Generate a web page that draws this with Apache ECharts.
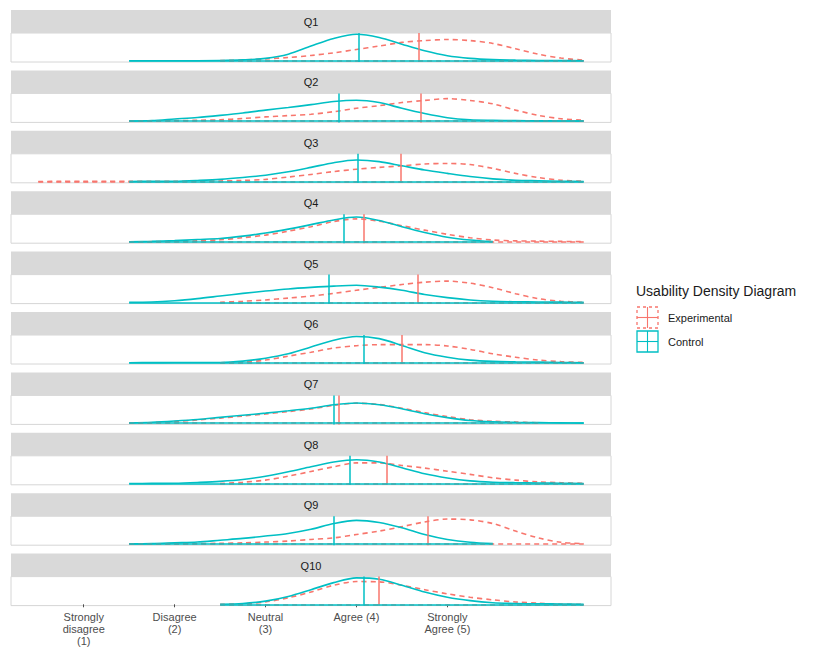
<!DOCTYPE html>
<html><head><meta charset="utf-8">
<script src="https://cdn.jsdelivr.net/npm/echarts@6/dist/echarts.min.js"></script>
<style>html,body{margin:0;padding:0;background:#fff}#c{width:814px;height:649px}</style>
</head><body><div id="c"></div>
<script>
// ---------- data ----------
const questions = ['Q1','Q2','Q3','Q4','Q5','Q6','Q7','Q8','Q9','Q10'];
const xs = [0.5, 0.75, 1, 1.25, 1.5, 1.75, 2, 2.25, 2.5, 2.75, 3, 3.25, 3.5, 3.75, 4, 4.25, 4.5, 4.75, 5, 5.25, 5.5, 5.75, 6, 6.25, 6.5];
const tickValues = [1, 2, 3, 4, 5];
const tickLabels = ['Strongly\ndisagree\n(1)', 'Disagree\n(2)', 'Neutral\n(3)', 'Agree (4)', 'Strongly\nAgree (5)'];
const N = null;

const ctlQ1  = [N,N,N,N, 0, 0, 0, 0, 0.005, 0.03, 0.09, 0.25, 0.56, 0.85, 1.01, 0.89, 0.63, 0.38, 0.19, 0.09, 0.04, 0.02, 0.01, 0.005, 0];
const expQ1  = [N,N,N,N,N,N,N,N, 0.005, 0.03, 0.07, 0.12, 0.2, 0.3, 0.43, 0.56, 0.7, 0.77, 0.81, 0.77, 0.66, 0.46, 0.25, 0.1, 0.02];
const ctlQ2  = [N,N,N,N, 0, 0.02, 0.08, 0.14, 0.22, 0.31, 0.42, 0.52, 0.63, 0.75, 0.8, 0.71, 0.49, 0.29, 0.13, 0.05, 0.03, 0.02, 0.01, 0.005, 0];
const expQ2  = [N,N,N,N, 0, 0.01, 0.02, 0.03, 0.05, 0.1, 0.16, 0.21, 0.26, 0.36, 0.49, 0.59, 0.71, 0.79, 0.86, 0.79, 0.66, 0.42, 0.22, 0.09, 0.03];
const ctlQ3  = [N,N,N,N, 0, 0.005, 0.01, 0.04, 0.08, 0.15, 0.24, 0.37, 0.54, 0.72, 0.82, 0.76, 0.6, 0.44, 0.31, 0.19, 0.1, 0.05, 0.03, 0.01, 0];
const expQ3  = [0, 0.005, 0.005, 0.01, 0.01, 0.01, 0.01, 0.015, 0.02, 0.04, 0.08, 0.17, 0.27, 0.38, 0.47, 0.54, 0.6, 0.67, 0.69, 0.65, 0.5, 0.31, 0.15, 0.05, 0.01];
const ctlQ4  = [N,N,N,N, 0, 0.02, 0.05, 0.09, 0.13, 0.22, 0.34, 0.49, 0.66, 0.84, 0.95, 0.82, 0.58, 0.36, 0.18, 0.07, 0.01, N, N, N, N];
const expQ4  = [N,N,N,N, 0, 0.01, 0.02, 0.04, 0.08, 0.16, 0.26, 0.41, 0.58, 0.78, 0.88, 0.79, 0.62, 0.45, 0.29, 0.16, 0.07, 0.04, 0.03, 0.02, 0.01];
const ctlQ5  = [N,N,N,N, 0, 0.01, 0.06, 0.14, 0.24, 0.34, 0.43, 0.51, 0.57, 0.62, 0.65, 0.58, 0.46, 0.3, 0.18, 0.09, 0.04, 0.02, 0.01, 0.005, 0];
const expQ5  = [N,N,N,N,N,N,N,N, 0, 0.04, 0.09, 0.16, 0.24, 0.34, 0.46, 0.57, 0.68, 0.77, 0.81, 0.73, 0.56, 0.33, 0.14, 0.04, 0];
const ctlQ6  = [N,N,N,N, 0, 0.003, 0.005, 0.008, 0.01, 0.06, 0.17, 0.34, 0.6, 0.86, 1.0, 0.92, 0.66, 0.38, 0.21, 0.1, 0.05, 0.03, 0.02, 0.01, 0];
const expQ6  = [N,N,N,N,N,N,N,N, 0, 0.02, 0.1, 0.25, 0.4, 0.56, 0.65, 0.69, 0.69, 0.69, 0.64, 0.51, 0.34, 0.21, 0.1, 0.04, 0.01];
const ctlQ7  = [N,N,N,N, 0, 0.03, 0.08, 0.14, 0.22, 0.3, 0.38, 0.47, 0.57, 0.7, 0.77, 0.7, 0.55, 0.36, 0.21, 0.1, 0.05, 0.03, 0.02, 0.01, 0];
const expQ7  = [N,N,N,N, 0, 0.02, 0.06, 0.12, 0.19, 0.27, 0.35, 0.44, 0.54, 0.68, 0.76, 0.71, 0.57, 0.4, 0.25, 0.13, 0.07, 0.04, 0.01, N, N];
const ctlQ8  = [N,N,N,N, 0, 0.003, 0.01, 0.04, 0.08, 0.15, 0.28, 0.45, 0.64, 0.82, 0.91, 0.82, 0.6, 0.37, 0.21, 0.1, 0.05, 0.03, 0.02, 0.01, 0];
const expQ8  = [N,N,N,N,N,N,N,N, 0, 0.05, 0.13, 0.28, 0.46, 0.64, 0.79, 0.79, 0.69, 0.59, 0.47, 0.35, 0.22, 0.13, 0.06, 0.03, 0.01];
const ctlQ9  = [N,N,N,N, 0, 0.01, 0.04, 0.07, 0.14, 0.21, 0.3, 0.4, 0.56, 0.78, 0.9, 0.82, 0.62, 0.36, 0.17, 0.06, 0.01, N, N, N, N];
const expQ9  = [N,N,N,N, 0, 0.005, 0.01, 0.015, 0.02, 0.04, 0.07, 0.11, 0.17, 0.23, 0.36, 0.49, 0.66, 0.84, 0.95, 0.92, 0.78, 0.49, 0.23, 0.06, 0.01];
const ctlQ10 = [N,N,N,N,N,N,N,N, 0, 0.03, 0.12, 0.3, 0.56, 0.83, 1.01, 0.96, 0.73, 0.47, 0.27, 0.14, 0.06, 0.03, 0.02, 0.01, 0];
const expQ10 = [N,N,N,N,N,N,N,N, 0, 0.02, 0.09, 0.25, 0.47, 0.73, 0.87, 0.86, 0.73, 0.56, 0.4, 0.27, 0.17, 0.09, 0.04, 0.01, 0];

const controlMeans      = [4.03, 3.80, 4.01, 3.86, 3.70, 4.08, 3.75, 3.93, 3.75, 4.08];
const experimentalMeans = [4.68, 4.71, 4.49, 4.08, 4.67, 4.50, 3.80, 4.33, 4.78, 4.25];

const controlCurves = [ctlQ1, ctlQ2, ctlQ3, ctlQ4, ctlQ5, ctlQ6, ctlQ7, ctlQ8, ctlQ9, ctlQ10];
const experimentalCurves = [expQ1, expQ2, expQ3, expQ4, expQ5, expQ6, expQ7, expQ8, expQ9, expQ10];

// ---------- layout / style ----------
const RED = '#F8766D', CYAN = '#00BFC4';
const FONT = '"Liberation Sans", Arial, sans-serif';
const LEFT = 11, WIDTH = 600, STRIP_H = 23, PANEL_H = 29, STEP = 60.4, TOP0 = 10;

const grids = [], xAxes = [], yAxes = [], series = [], graphics = [];

function pairs(vals) {
  const out = [];
  vals.forEach((v, j) => { if (v !== null) out.push([xs[j], v]); });
  return out;
}

function densitySeries(name, vals, mean, color, dashed, gi) {
  const d = pairs(vals);
  const ls = { color, width: 1.6, type: dashed ? [5, 4] : 'solid', opacity: 1 };
  const vl = { color, width: 1.5, type: 'solid', opacity: 1 };
  return {
    name, type: 'line', xAxisIndex: gi, yAxisIndex: gi,
    data: d, smooth: 0.3, showSymbol: false, symbol: 'none',
    lineStyle: ls, itemStyle: { color },
    silent: true, animation: false,
    markLine: {
      silent: true, symbol: 'none', animation: false,
      label: { show: false },
      lineStyle: vl,
      emphasis: { disabled: true },
      data: [
        [{ coord: [d[0][0], 0], lineStyle: ls }, { coord: [d[d.length - 1][0], 0] }],
        { xAxis: mean, lineStyle: vl }
      ]
    }
  };
}

questions.forEach((q, i) => {
  const stripTop = TOP0 + STEP * i;
  const panelTop = stripTop + STRIP_H;
  grids.push({ left: LEFT, width: WIDTH, top: panelTop, height: PANEL_H,
               show: true, borderColor: '#d6d6d6', borderWidth: 1, backgroundColor: '#ffffff' });
  const last = i === questions.length - 1;
  xAxes.push({
    type: 'value', gridIndex: i, min: 0.2, max: 6.8,
    splitLine: { show: false },
    axisLine: { show: false },
    axisTick: { show: last, customValues: tickValues, length: 3, lineStyle: { color: '#4d4d4d' } },
    axisLabel: {
      show: last, customValues: tickValues, margin: 5,
      color: '#4d4d4d', fontSize: 11, fontFamily: FONT, lineHeight: 12,
      formatter: v => tickLabels[tickValues.indexOf(v)]
    }
  });
  yAxes.push({ type: 'value', gridIndex: i, min: -0.05, max: 1.06, show: false, splitLine: { show: false } });
  series.push(densitySeries('Experimental', experimentalCurves[i], experimentalMeans[i], RED, true, i));
  series.push(densitySeries('Control', controlCurves[i], controlMeans[i], CYAN, false, i));
  graphics.push({ type: 'rect', shape: { x: LEFT, y: stripTop, width: WIDTH, height: STRIP_H },
                  style: { fill: '#d9d9d9' }, silent: true });
  graphics.push({ type: 'text', x: LEFT + WIDTH / 2, y: stripTop + STRIP_H / 2 + 0.5,
                  style: { text: q, align: 'center', verticalAlign: 'middle', textAlign: 'center', textVerticalAlign: 'middle',
                           fontSize: 11, fontFamily: FONT, fill: '#1a1a1a' }, silent: true });
});

// legend (custom keys)
graphics.push({ type: 'text', x: 636, y: 291,
  style: { text: 'Usability Density Diagram', align: 'left', verticalAlign: 'middle', textAlign: 'left', textVerticalAlign: 'middle',
           fontSize: 14, fontFamily: FONT, fill: '#1a1a1a' } });
const keys = [{ label: 'Experimental', color: RED, dash: [3, 3], y: 307 }, { label: 'Control', color: CYAN, dash: null, y: 331 }];
keys.forEach(k => {
  graphics.push({ type: 'rect', shape: { x: 637, y: k.y, width: 21, height: 21 },
    style: { fill: '#ffffff', stroke: k.color, lineWidth: 1.3, lineDash: k.dash } });
  graphics.push({ type: 'line', shape: { x1: 637, y1: k.y + 10.5, x2: 658, y2: k.y + 10.5 },
    style: { stroke: k.color, lineWidth: 1.1 } });
  graphics.push({ type: 'line', shape: { x1: 647.5, y1: k.y, x2: 647.5, y2: k.y + 21 },
    style: { stroke: k.color, lineWidth: 1.1 } });
  graphics.push({ type: 'text', x: 668, y: k.y + 11,
    style: { text: k.label, align: 'left', verticalAlign: 'middle', textAlign: 'left', textVerticalAlign: 'middle',
             fontSize: 11, fontFamily: FONT, fill: '#1a1a1a' } });
});

const chart = echarts.init(document.getElementById('c'), null, { renderer: 'svg', width: 814, height: 649 });
chart.setOption({
  animation: false,
  backgroundColor: '#ffffff',
  grid: grids, xAxis: xAxes, yAxis: yAxes, series,
  graphic: { elements: graphics }
});
</script>
</body></html>
